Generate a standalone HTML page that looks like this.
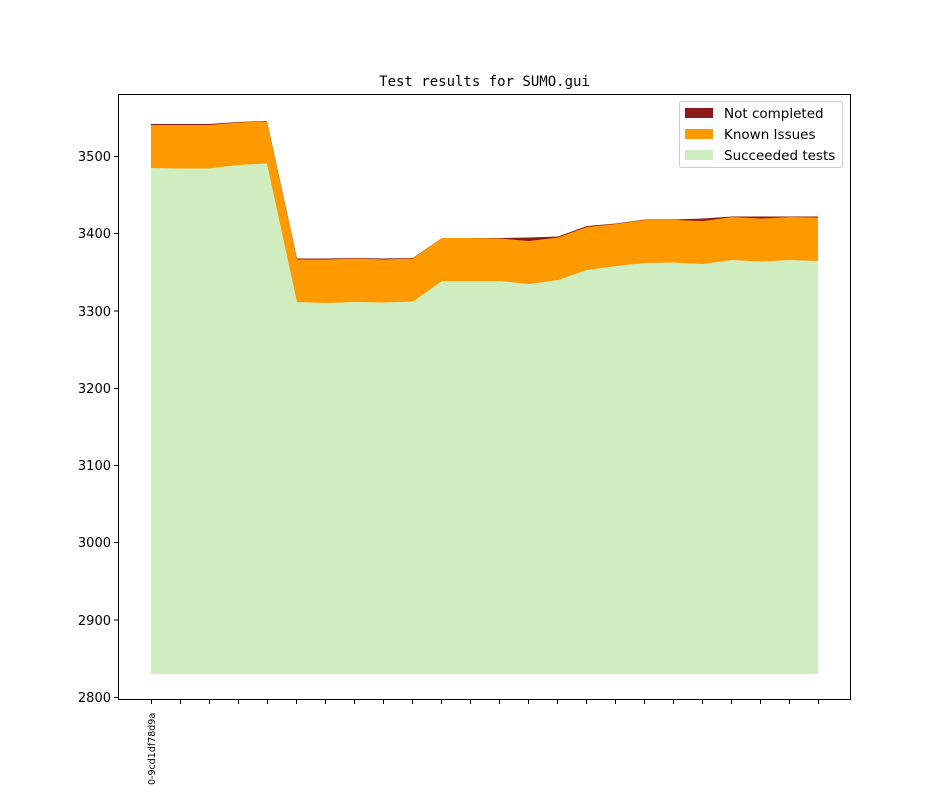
<!DOCTYPE html>
<html><head><meta charset="utf-8"><style>body{margin:0;background:#fff}svg{display:block}</style></head><body>
<svg width="944" height="787" xmlns="http://www.w3.org/2000/svg" font-family="DejaVu Sans, Liberation Sans, sans-serif">
<rect width="944" height="787" fill="#fff"/>
<text x="484.5" y="86" font-family="DejaVu Sans Mono, Liberation Mono, monospace" font-size="14" text-anchor="middle">Test results for SUMO.gui</text>
<polygon fill="#8b1a1a" points="151,124 180,124 209,124 238,122 267,121 297,258.5 326,258.5 355,258 384,258.5 413,258 442,238 471,238 500,238 529,237.5 558,236.5 587,226 616,223.5 645,219.5 674,219.5 703,218.5 732,216.5 761,216.5 790,216.5 818,216.5 818,674 151,674"/>
<polygon fill="#ff9900" points="151,125 180,125 209,125 238,122.5 267,121.5 297,259.5 326,259.5 355,258.5 384,259.5 413,258.5 442,238 471,238 500,238.5 529,241 558,237.5 587,227 616,224 645,220 674,220 703,221 732,217 761,218.5 790,217 818,217.5 818,674 151,674"/>
<polygon fill="#cfedbe" points="151,168 180,168.5 209,168.5 238,165 267,163.5 297,302 326,303 355,302 384,302.5 413,301.5 442,281 471,281 500,281 529,284 558,280 587,270 616,266 645,263 674,262.5 703,264 732,260 761,261.5 790,260 818,261 818,674 151,674"/>
<rect x="118.5" y="94.5" width="732" height="605" fill="none" stroke="#000" stroke-width="1"/>
<g stroke="#000" stroke-width="1">
<line x1="114" y1="156.5" x2="118" y2="156.5"/><line x1="114" y1="233.5" x2="118" y2="233.5"/><line x1="114" y1="311" x2="118" y2="311"/><line x1="114" y1="388.5" x2="118" y2="388.5"/><line x1="114" y1="465.5" x2="118" y2="465.5"/><line x1="114" y1="542.5" x2="118" y2="542.5"/><line x1="114" y1="620" x2="118" y2="620"/><line x1="114" y1="697.5" x2="118" y2="697.5"/>
</g>
<g font-size="13" text-anchor="end">
<text x="111" y="161">3500</text><text x="111" y="238">3400</text><text x="111" y="316">3300</text><text x="111" y="393">3200</text><text x="111" y="470">3100</text><text x="111" y="547">3000</text><text x="111" y="625">2900</text><text x="111" y="702">2800</text>
</g>
<g stroke="#000" stroke-width="1">
<line x1="151.5" y1="700" x2="151.5" y2="704"/><line x1="180.5" y1="700" x2="180.5" y2="704"/><line x1="209.5" y1="700" x2="209.5" y2="704"/><line x1="238.5" y1="700" x2="238.5" y2="704"/><line x1="267.5" y1="700" x2="267.5" y2="704"/><line x1="296.5" y1="700" x2="296.5" y2="704"/><line x1="325.5" y1="700" x2="325.5" y2="704"/><line x1="354.5" y1="700" x2="354.5" y2="704"/><line x1="383.5" y1="700" x2="383.5" y2="704"/><line x1="412.5" y1="700" x2="412.5" y2="704"/><line x1="441.5" y1="700" x2="441.5" y2="704"/><line x1="470.5" y1="700" x2="470.5" y2="704"/><line x1="499.5" y1="700" x2="499.5" y2="704"/><line x1="528.5" y1="700" x2="528.5" y2="704"/><line x1="557.5" y1="700" x2="557.5" y2="704"/><line x1="586.5" y1="700" x2="586.5" y2="704"/><line x1="615.5" y1="700" x2="615.5" y2="704"/><line x1="644.5" y1="700" x2="644.5" y2="704"/><line x1="673.5" y1="700" x2="673.5" y2="704"/><line x1="702.5" y1="700" x2="702.5" y2="704"/><line x1="731.5" y1="700" x2="731.5" y2="704"/><line x1="760.5" y1="700" x2="760.5" y2="704"/><line x1="789.5" y1="700" x2="789.5" y2="704"/><line x1="818.5" y1="700" x2="818.5" y2="704"/>
</g>
<text transform="translate(155,785) rotate(-90)" font-size="9.5">0-9cd1df78d9a</text>
<rect x="679.5" y="101.5" width="163" height="66" rx="2" fill="#fff" fill-opacity="0.8" stroke="#ccc"/>
<rect x="685" y="108" width="28" height="10" fill="#8b1a1a"/>
<rect x="685" y="129" width="28" height="10" fill="#ff9900"/>
<rect x="685" y="150" width="28" height="10" fill="#cfedbe"/>
<g font-size="13.5">
<text x="724" y="118">Not completed</text>
<text x="724" y="139">Known Issues</text>
<text x="724" y="160">Succeeded tests</text>
</g>
</svg>
</body></html>
